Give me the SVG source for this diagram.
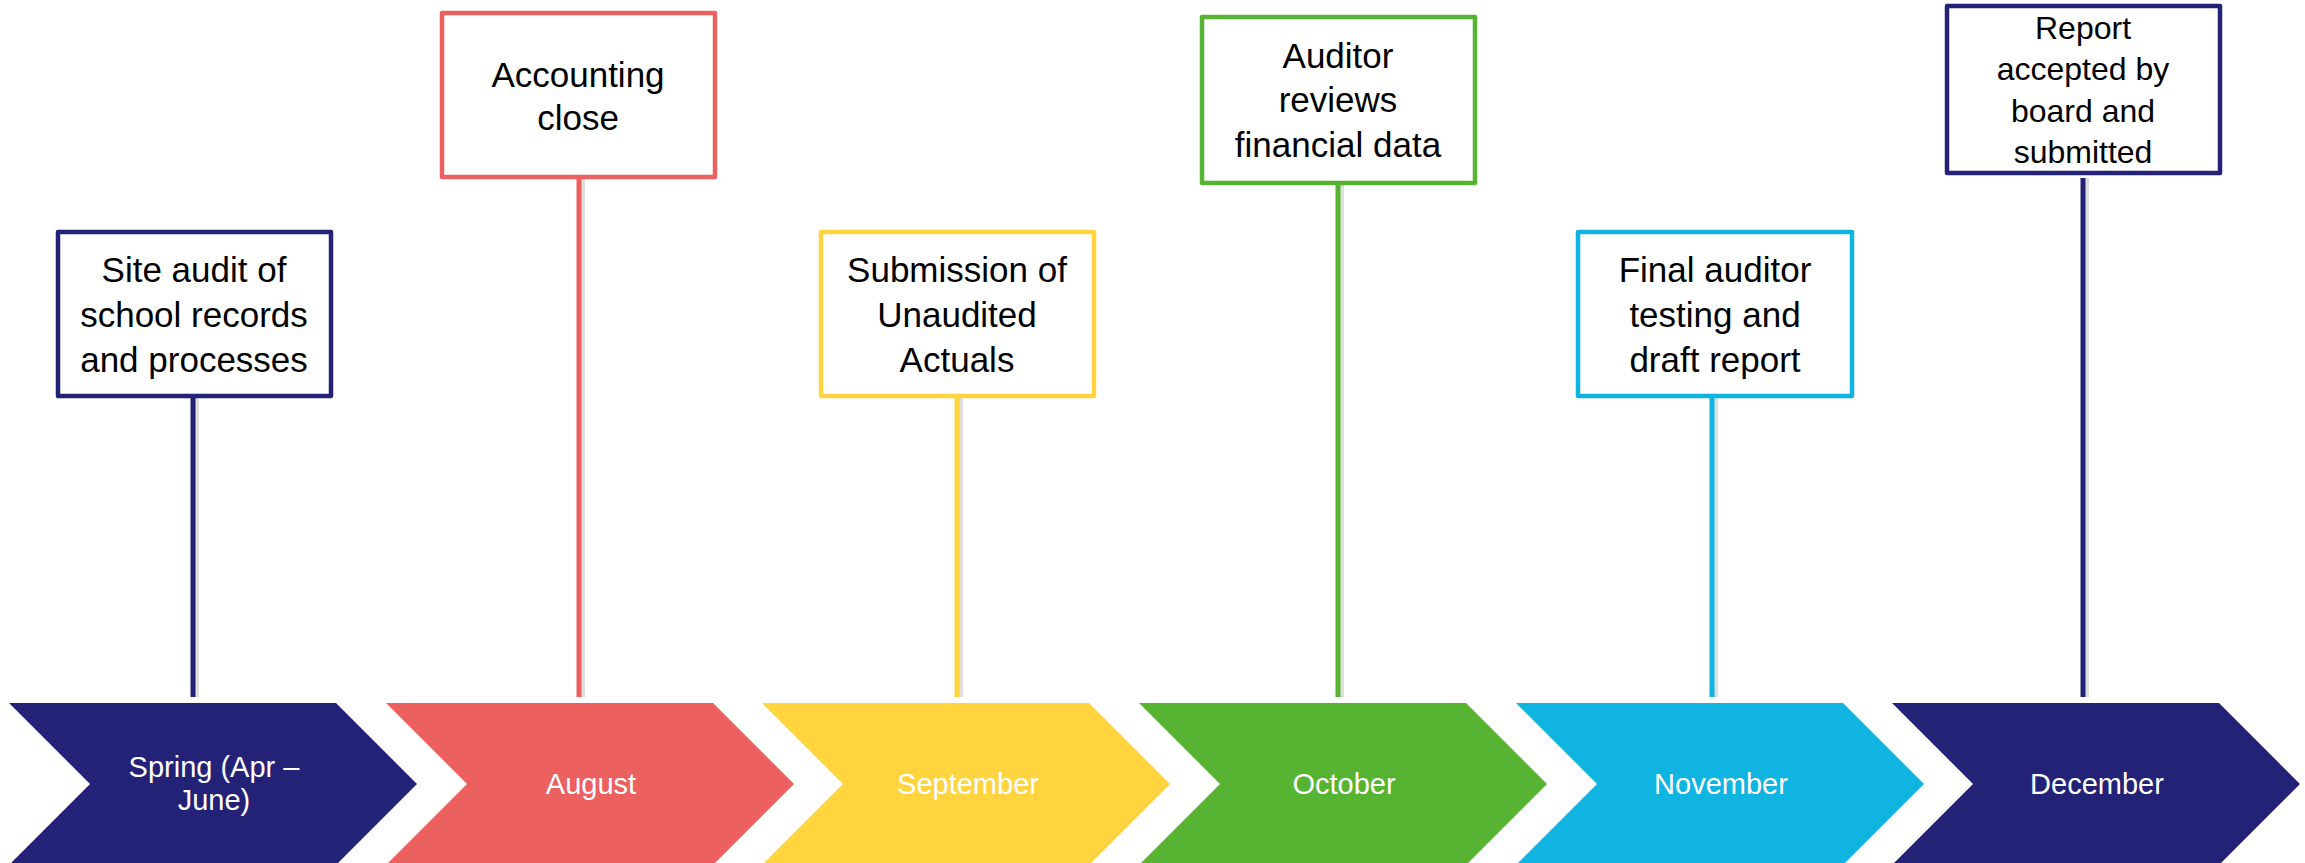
<svg xmlns="http://www.w3.org/2000/svg" width="2305" height="863" viewBox="0 0 2305 863">
<style>
.box{fill:#ffffff;stroke-width:4.5;stroke-linejoin:round}
.bt{font-family:"Liberation Sans",Arial,sans-serif;font-size:35px;fill:#000;text-anchor:middle}
.ct{font-family:"Liberation Sans",Arial,sans-serif;font-size:29px;fill:#ffffff;text-anchor:middle}
.ln{stroke-width:5;fill:none}
.sh{stroke:#c8c8c8;stroke-width:4;opacity:0.6;fill:none}
.navy{fill:#232277}.red{fill:#EC6060}.yel{fill:#FFD43E}.grn{fill:#56B432}.cyn{fill:#10B4E0}
</style>
<rect width="2305" height="863" fill="#ffffff"/>
<g id="connectors">
<line class="sh" x1="197" y1="398" x2="197" y2="697"/>
<line class="ln" stroke="#232277" x1="193" y1="398" x2="193" y2="697"/>
<line class="sh" x1="583" y1="179" x2="583" y2="697"/>
<line class="ln" stroke="#EC6060" x1="579" y1="179" x2="579" y2="697"/>
<line class="sh" x1="961" y1="398" x2="961" y2="697"/>
<line class="ln" stroke="#FFD43E" x1="957" y1="398" x2="957" y2="697"/>
<line class="sh" x1="1342" y1="185" x2="1342" y2="697"/>
<line class="ln" stroke="#56B432" x1="1338" y1="185" x2="1338" y2="697"/>
<line class="sh" x1="1716" y1="398" x2="1716" y2="697"/>
<line class="ln" stroke="#10B4E0" x1="1712" y1="398" x2="1712" y2="697"/>
<line class="sh" x1="2087" y1="178" x2="2087" y2="697"/>
<line class="ln" stroke="#232277" x1="2083" y1="178" x2="2083" y2="697"/>
</g>
<g id="chev-spring">
<path class="navy" d="M9,703 H336 L417,784 L336,865 H9 L90,784 Z"/>
<text class="ct" x="214" y="777">Spring (Apr –</text>
<text class="ct" x="214" y="810">June)</text>
</g>
<g id="chev-august">
<path class="red" d="M386,703 H713 L794,784 L713,865 H386 L467,784 Z"/>
<text class="ct" x="591" y="794">August</text>
</g>
<g id="chev-september">
<path class="yel" d="M762,703 H1089 L1170,784 L1089,865 H762 L843,784 Z"/>
<text class="ct" x="968" y="794">September</text>
</g>
<g id="chev-october">
<path class="grn" d="M1139,703 H1466 L1547,784 L1466,865 H1139 L1220,784 Z"/>
<text class="ct" x="1344" y="794">October</text>
</g>
<g id="chev-november">
<path class="cyn" d="M1516,703 H1843 L1924,784 L1843,865 H1516 L1597,784 Z"/>
<text class="ct" x="1721" y="794">November</text>
</g>
<g id="chev-december">
<path class="navy" d="M1892,703 H2219 L2300,784 L2219,865 H1892 L1973,784 Z"/>
<text class="ct" x="2097" y="794">December</text>
</g>
<g id="box-site-audit">
<rect class="box" stroke="#232277" x="58" y="232" width="273" height="164"/>
<text class="bt" x="194" y="282">Site audit of</text>
<text class="bt" x="194" y="327">school records</text>
<text class="bt" x="194" y="372">and processes</text>
</g>
<g id="box-accounting">
<rect class="box" stroke="#EC6060" x="442" y="13" width="273" height="164"/>
<text class="bt" x="578" y="87">Accounting</text>
<text class="bt" x="578" y="130">close</text>
</g>
<g id="box-submission">
<rect class="box" stroke="#FFD43E" x="821" y="232" width="273" height="164"/>
<text class="bt" x="957" y="282">Submission of</text>
<text class="bt" x="957" y="327">Unaudited</text>
<text class="bt" x="957" y="372">Actuals</text>
</g>
<g id="box-auditor-reviews">
<rect class="box" stroke="#56B432" x="1202" y="17" width="273" height="166"/>
<text class="bt" x="1338" y="68">Auditor</text>
<text class="bt" x="1338" y="112">reviews</text>
<text class="bt" x="1338" y="157">financial data</text>
</g>
<g id="box-final-auditor">
<rect class="box" stroke="#10B4E0" x="1578" y="232" width="274" height="164"/>
<text class="bt" x="1715" y="282">Final auditor</text>
<text class="bt" x="1715" y="327">testing and</text>
<text class="bt" x="1715" y="372">draft report</text>
</g>
<g id="box-report">
<rect class="box" stroke="#232277" x="1947" y="6" width="273" height="167"/>
<text class="bt" x="2083" y="39" style="font-size:32px">Report</text>
<text class="bt" x="2083" y="80" style="font-size:32px">accepted by</text>
<text class="bt" x="2083" y="122" style="font-size:32px">board and</text>
<text class="bt" x="2083" y="163" style="font-size:32px">submitted</text>
</g>
</svg>
